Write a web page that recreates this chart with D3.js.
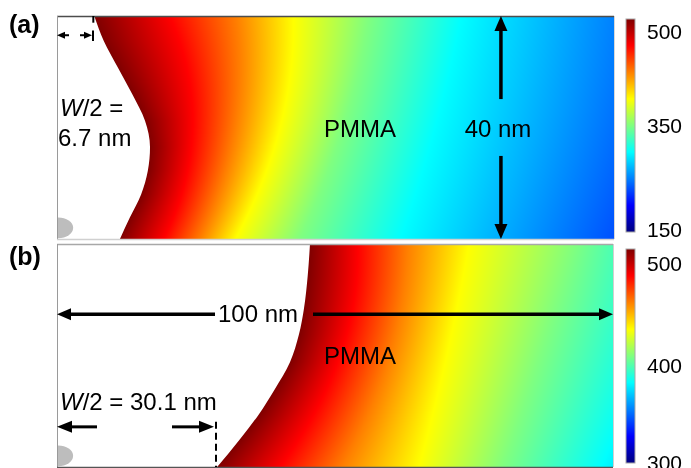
<!DOCTYPE html>
<html><head><meta charset="utf-8">
<script src="https://cdn.jsdelivr.net/npm/d3@7"></script>
<style>
html,body{margin:0;padding:0;background:#fff;}
#wrap{position:relative;width:691px;height:468px;overflow:hidden;background:#fff;}
canvas,svg{position:absolute;left:0;top:0;}
text{font-family:"Liberation Sans",Arial,Helvetica,sans-serif;fill:#000;}
</style></head><body>
<div id="wrap"><canvas id="cv" width="691" height="468"></canvas><svg id="sv" width="691" height="468"></svg></div>
<script>
// ---------------- DATA (nm / K) ----------------
const isoRowsV = [0, 20, 40];               // rows (nm from top) where isotherm positions were read

// Panel (a): W/2 = 6.7 nm
const aBoundaryV = [0, 4.5, 9.2, 14.0, 18.8, 23.5, 27.8, 32.0, 36.1, 40];
const aBoundaryU = [6.7, 8.4, 10.9, 13.5, 15.8, 16.7, 16.3, 15.1, 13.1, 11.3];
const aLevels = [456, 413, 369, 325, 281];
const aIsoTop = [20.3, 32.1, 42.4, 56.0, 72.7];
const aIsoMid = [24.4, 32.0, 40.0, 51.3, 68.0];
const aIsoBot = [19.2, 25.7, 32.0, 43.6, 61.8];
const aEdgeT = [238, 232, 221];
const aTmax = 500;
const aColorDomain = [150, 500];
const aTicks = [500, 350, 150];

// Panel (b): W/2 = 30.1 nm
const bBoundaryV = [0, 5.6, 11.7, 16.3, 21.2, 26.0, 30.7, 35.0, 40];
const bBoundaryU = [45.5, 45.1, 44.4, 43.5, 41.9, 39.2, 36.2, 32.9, 28.8];
const bLevels = [475, 450, 425, 400];
const bIsoTop = [54.1, 63.1, 74.1, 93.3];
const bIsoMid = [50.9, 59.9, 70.1, 86.9];
const bIsoBot = [40.1, 51.4, 65.1, 80.2];
const bEdgeT = [390, 383, 372];
const bTmax = 500;
const bColorDomain = [300, 500];
const bTicks = [500, 400, 300];

const domainU = [0, 100];   // nm
const domainV = [0, 40];    // nm

// ---------------- helpers ----------------
const jetInterp = t => {
  t = Math.max(0, Math.min(1, t));
  const c = v => Math.round(255 * Math.max(0, Math.min(1, v)));
  return `rgb(${c(1.5 - Math.abs(4*t - 3))},${c(1.5 - Math.abs(4*t - 2))},${c(1.5 - Math.abs(4*t - 1))})`;
};
const jetRGB = t => {
  t = Math.max(0, Math.min(1, t));
  const c = v => Math.round(255 * Math.max(0, Math.min(1, v)));
  return [c(1.5 - Math.abs(4*t - 3)), c(1.5 - Math.abs(4*t - 2)), c(1.5 - Math.abs(4*t - 1))];
};
function quad3(vals, v) {
  const [v0, v1, v2] = isoRowsV;
  const L0 = (v - v1) * (v - v2) / ((v0 - v1) * (v0 - v2));
  const L1 = (v - v0) * (v - v2) / ((v1 - v0) * (v1 - v2));
  const L2 = (v - v0) * (v - v1) / ((v2 - v0) * (v2 - v1));
  return vals[0] * L0 + vals[1] * L1 + vals[2] * L2;
}

const panels = [
  { px: [57, 614], py: [16, 239], bV: aBoundaryV, bU: aBoundaryU, levels: aLevels,
    iso: [aIsoTop, aIsoMid, aIsoBot], edge: aEdgeT, tmax: aTmax, cdom: aColorDomain,
    ticks: aTicks, tickY: [39, 133, 237], bar: [19, 232],
    borders: { top: "#4d4d4d", left: "#9a9a9a", bottom: "#d0d0d0", right: "#d8d8d8" } },
  { px: [57, 613], py: [244, 467], bV: bBoundaryV, bU: bBoundaryU, levels: bLevels,
    iso: [bIsoTop, bIsoMid, bIsoBot], edge: bEdgeT, tmax: bTmax, cdom: bColorDomain,
    ticks: bTicks, tickY: [271, 373, 470], bar: [249, 463],
    borders: { top: "#a8a8a8", left: "#9a9a9a", bottom: "#555555", right: "#cfcfcf" } }
];

const svg = d3.select("#sv");
const ctx = document.getElementById("cv").getContext("2d");
const defs = svg.append("defs");

panels.forEach((p, pi) => {
  p.x = d3.scaleLinear().domain(domainU).range(p.px);
  p.y = d3.scaleLinear().domain(domainV).range(p.py);
  p.color = d3.scaleSequential(jetInterp).domain(p.cdom);
  const bnd = d3.scaleLinear().domain(p.bV).range(p.bU).clamp(true);
  const tnorm = d3.scaleLinear().domain(p.cdom).range([0, 1]);

  // ---- temperature field on canvas ----
  const x0 = p.px[0], x1 = p.px[1], y0 = p.py[0], y1 = p.py[1];
  const img = ctx.createImageData(x1 - x0, y1 - y0);
  for (let py = y0; py < y1; py++) {
    const v = p.y.invert(py + 0.5);
    const ub = bnd(v);
    const us = [ub], ts = [p.tmax];
    p.levels.forEach((L, i) => {
      const ui = quad3([p.iso[0][i], p.iso[1][i], p.iso[2][i]], v);
      if (ui > us[us.length - 1] + 0.01 && ui < 99.9) { us.push(ui); ts.push(L); }
    });
    us.push(100); ts.push(quad3(p.edge, v));
    const row = d3.scaleLinear().domain(us).range(ts).clamp(true);
    for (let px = x0; px < x1; px++) {
      const u = p.x.invert(px + 0.5);
      const [r, g, b] = jetRGB(tnorm(row(u)));
      const k = ((py - y0) * (x1 - x0) + (px - x0)) * 4;
      img.data[k] = r; img.data[k+1] = g; img.data[k+2] = b; img.data[k+3] = 255;
    }
  }
  ctx.putImageData(img, x0, y0);

  const g = svg.append("g");
  const clipId = "clip" + pi;
  defs.append("clipPath").attr("id", clipId).append("rect")
    .attr("x", x0).attr("y", y0).attr("width", x1 - x0).attr("height", y1 - y0);

  // ---- white (nanoparticle) region ----
  const pts = p.bV.map((v, i) => ({ v, u: p.bU[i] }));
  const area = d3.area().curve(d3.curveMonotoneY)
    .y(d => p.y(d.v)).x0(p.x(0)).x1(d => p.x(d.u));
  g.append("path").attr("d", area(pts)).attr("fill", "#fff");

  // grey blob at bottom-left
  g.append("ellipse").attr("clip-path", `url(#${clipId})`)
    .attr("cx", p.x(0.2)).attr("cy", p.y(38.0))
    .attr("rx", p.x(2.7) - p.x(0)).attr("ry", p.y(1.85) - p.y(0))
    .attr("fill", "#bdbdbd");

  // ---- borders ----
  g.append("line").attr("x1", x0).attr("x2", x1).attr("y1", y0 + 0.5).attr("y2", y0 + 0.5)
    .attr("stroke", p.borders.top).attr("stroke-width", 1.3);
  g.append("line").attr("x1", x0 + 0.5).attr("x2", x0 + 0.5).attr("y1", y0).attr("y2", y1)
    .attr("stroke", p.borders.left).attr("stroke-width", 1);
  g.append("line").attr("x1", x0).attr("x2", x1).attr("y1", y1 + 0.5).attr("y2", y1 + 0.5)
    .attr("stroke", p.borders.bottom).attr("stroke-width", 1.3);
  g.append("line").attr("x1", x1 + 0.5).attr("x2", x1 + 0.5).attr("y1", y0).attr("y2", y1)
    .attr("stroke", p.borders.right).attr("stroke-width", 1);

  // ---- colour bar ----
  const gid = "grad" + pi;
  const grad = defs.append("linearGradient").attr("id", gid)
    .attr("x1", 0).attr("y1", 1).attr("x2", 0).attr("y2", 0);
  d3.range(0, 1.0001, 1 / 32).forEach(t => {
    grad.append("stop").attr("offset", t).attr("stop-color", jetInterp(t));
  });
  const barScale = d3.scaleLinear().domain(p.cdom).range([p.bar[1], p.bar[0]]);
  g.append("rect").attr("x", 626).attr("y", barScale(p.cdom[1]))
    .attr("width", 9).attr("height", barScale(p.cdom[0]) - barScale(p.cdom[1]))
    .attr("fill", `url(#${gid})`).attr("stroke", "#a8a8a8").attr("stroke-width", 1);
  const labelPos = d3.scaleLinear().domain(p.ticks).range(p.tickY);
  g.selectAll("text.tick").data(p.ticks).join("text").attr("class", "tick")
    .attr("x", 647).attr("y", d => labelPos(d))
    .style("font-size", "21px").text(d => d);
});

// ---------------- annotations ----------------
function arrowHead(x, y, dx, dy, len, wid) {
  const n = Math.hypot(dx, dy), ux = dx / n, uy = dy / n;
  const bx = x - ux * len, by = y - uy * len;
  const px = -uy * wid / 2, py = ux * wid / 2;
  svg.append("path").attr("d", `M${x},${y}L${bx + px},${by + py}L${bx - px},${by - py}Z`).attr("fill", "#000");
}
function arrow(xa, ya, xb, yb, len, wid, sw) {
  const n = Math.hypot(xb - xa, yb - ya);
  const ex = xb - (xb - xa) / n * (len - 1), ey = yb - (yb - ya) / n * (len - 1);
  svg.append("line").attr("x1", xa).attr("y1", ya).attr("x2", ex).attr("y2", ey)
    .attr("stroke", "#000").attr("stroke-width", sw);
  arrowHead(xb, yb, xb - xa, yb - ya, len, wid);
}
function label(x, y, parts, size, weight, anchor) {
  const t = svg.append("text").attr("x", x).attr("y", y)
    .style("font-size", size + "px").style("font-weight", weight || "normal")
    .attr("text-anchor", anchor || "start");
  parts.forEach(pt => {
    const s = t.append("tspan").text(pt[0]);
    if (pt[1]) s.style("font-style", "italic");
  });
}

const A = panels[0], B = panels[1];

// panel (a)
label(9, 33, [["(a)"]], 25, "bold");
label(60, 116, [["W", true], ["/2 ="]], 24);
label(58, 146, [["6.7 nm"]], 24);
label(324, 137, [["PMMA"]], 24);
label(498, 137, [["40 nm"]], 24, "normal", "middle");
// 40 nm vertical arrow
arrow(A.x(79.7), A.y(14.9), A.x(79.7), A.y(0), 15, 13, 3.5);
arrow(A.x(79.7), A.y(25.1), A.x(79.7), A.y(40), 15, 13, 3.5);
// W/2 marker (top-left)
arrow(69, A.y(3.45), A.x(0), A.y(3.45), 8, 7, 2);
arrow(80, A.y(3.45), 92, A.y(3.45), 8, 7, 2);
svg.append("line").attr("x1", 93).attr("x2", 93).attr("y1", A.y(2.6)).attr("y2", A.y(4.5))
  .attr("stroke", "#000").attr("stroke-width", 2);
svg.append("line").attr("x1", A.x(6.7) - 1).attr("x2", A.x(6.7) - 1).attr("y1", A.y(0)).attr("y2", A.y(1.2))
  .attr("stroke", "#000").attr("stroke-width", 2);

// panel (b)
label(9, 265, [["(b)"]], 25, "bold");
arrow(215, B.y(12.6), B.x(0), B.y(12.6), 14, 12, 3.5);
arrow(313, B.y(12.6), B.x(100), B.y(12.6), 14, 12, 3.5);
label(218, 322, [["100 nm"]], 24);
label(324, 364, [["PMMA"]], 24);
label(60, 410, [["W", true], ["/2 = 30.1 nm"]], 24);
arrow(97, B.y(32.8), B.x(0), B.y(32.8), 15, 12, 3);
arrow(172, B.y(32.8), 214, B.y(32.8), 15, 12, 3);
svg.append("line").attr("x1", 216).attr("x2", 216).attr("y1", B.y(31.9)).attr("y2", B.y(40))
  .attr("stroke", "#000").attr("stroke-width", 2).attr("stroke-dasharray", "7,4");
</script>
</body></html>
